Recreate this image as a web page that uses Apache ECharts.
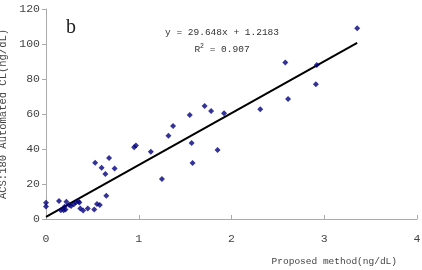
<!DOCTYPE html>
<html><head><meta charset="utf-8">
<script src="https://cdn.jsdelivr.net/npm/echarts@6/dist/echarts.min.js"></script>
<style>html,body{margin:0;padding:0;background:#fff}#c{width:422px;height:270px}</style>
</head><body><div id="c"></div>
<script>
var xTicks = [0, 1, 2, 3, 4];
var yTicks = [0, 20, 40, 60, 80, 100, 120];
var xName = 'Proposed method(ng/dL)';
var yName = 'ACS:180 Automated CL(ng/dL)';
var panelLabel = 'b';
var eqText = 'y = 29.648x + 1.2183';
var r2Text = 'R{s|2} = 0.907';
var proposed = [0, 0, 0.14, 0.16, 0.19, 0.21, 0.22, 0.2, 0.25, 0.27, 0.3, 0.32, 0.35, 0.36, 0.37, 0.40, 0.45, 0.52, 0.55, 0.58,
  0.53, 0.60, 0.68, 0.64, 0.65, 0.74, 0.95, 0.97, 1.13, 1.25, 1.32, 1.37, 1.55, 1.57, 1.58, 1.71, 1.78, 1.85, 1.92,
  2.31, 2.58, 2.61, 2.91, 2.92, 3.355];
var automated = [9.3, 7.2, 10.3, 5, 5, 5.5, 9.9, 7, 8, 7.5, 8.5, 9.5, 10, 9.5, 6, 4.8, 6, 5.5, 8.6, 8,
  32.2, 29.3, 34.9, 25.7, 13.3, 28.8, 41, 42, 38.5, 22.9, 47.6, 53.1, 59.4, 43.4, 32, 64.6, 61.7, 39.4, 60.4,
  62.7, 89.5, 68.6, 77, 88, 109];
var fitX = [0, 3.355];
var fitY = [1.2183, 100.69];

var pts = proposed.map(function (x, i) { return [x, automated[i]]; });
var fit = fitX.map(function (x, i) { return [x, fitY[i]]; });
var font = 'Liberation Mono';
var chart = echarts.init(document.getElementById('c'), null, {renderer: 'canvas'});
chart.setOption({
  animation: false,
  backgroundColor: '#fff',
  grid: {left: 46, right: 5, top: 9, bottom: 51, containLabel: false, outerBoundsMode: 'none'},
  xAxis: {
    type: 'value', min: xTicks[0], max: xTicks[xTicks.length - 1], interval: 1,
    axisLine: {lineStyle: {color: '#aaa', width: 1}},
    axisTick: {inside: true, length: 4, lineStyle: {color: '#aaa'}},
    splitLine: {show: false},
    axisLabel: {color: '#444', fontFamily: font, fontSize: 11.5, margin: 14},
    name: xName, nameLocation: 'end', nameGap: -20,
    nameTextStyle: {color: '#444', fontFamily: font, fontSize: 9.5, align: 'right', verticalAlign: 'top', padding: [37, 0, 0, 0]}
  },
  yAxis: {
    type: 'value', min: yTicks[0], max: yTicks[yTicks.length - 1], interval: 20,
    axisLine: {show: true, lineStyle: {color: '#aaa', width: 1}},
    axisTick: {show: true, length: 4, lineStyle: {color: '#aaa'}},
    splitLine: {show: false},
    axisLabel: {color: '#444', fontFamily: font, fontSize: 11.5, margin: 6},
    name: yName, nameLocation: 'middle', nameGap: 37,
    nameTextStyle: {color: '#444', fontFamily: font, fontSize: 10.5}
  },
  graphic: [
    {type: 'text', left: 66, top: 18, style: {text: panelLabel, fontFamily: 'Liberation Serif', fontSize: 20, fill: '#222'}},
    {type: 'text', x: 222, y: 32, style: {text: eqText, fontFamily: font, fontSize: 9.5, fill: '#333', align: 'center', verticalAlign: 'middle'}},
    {type: 'text', x: 222, y: 49, style: {text: r2Text, fontFamily: font, fontSize: 9.5, fill: '#333', align: 'center', verticalAlign: 'middle',
      rich: {s: {fontFamily: font, fontSize: 6.5, fill: '#333', verticalAlign: 'top', padding: [0, 0, 6, 0]}}}}
  ],
  series: [
    {type: 'line', data: fit, symbol: 'none', lineStyle: {color: '#000', width: 2}, z: 3},
    {type: 'scatter', data: pts, symbol: 'diamond', symbolSize: 6, itemStyle: {color: '#000080'}, z: 4}
  ]
});
</script></body></html>
